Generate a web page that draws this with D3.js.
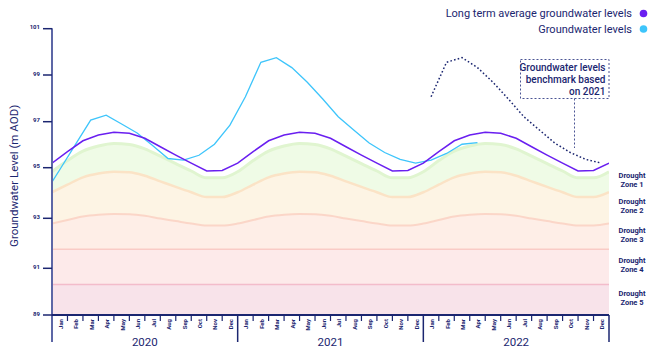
<!DOCTYPE html>
<html><head><meta charset="utf-8">
<script src="https://cdn.jsdelivr.net/npm/d3@7"></script>
<style>body{margin:0;background:#fff;} svg{display:block;font-family:Roboto,"Noto Sans",sans-serif;}</style>
</head><body><svg id="c" width="656" height="360"></svg>
<script>
// ---------- data ----------
const months = ["Jan","Feb","Mar","Apr","May","Jun","Jul","Aug","Sep","Oct","Nov","Dec"];
const years = ["2020","2021","2022"];
const yTicks = [89, 91, 93, 95, 97, 99, 101];

// long term average, month boundaries Jan 2020 ... Jan 2023 (37 values)
const longTermAvg = [
  95.20,95.70,96.17,96.42,96.54,96.50,96.28,95.91,95.55,95.20,94.87,94.89,
  95.20,95.70,96.17,96.42,96.54,96.50,96.28,95.91,95.55,95.20,94.87,94.89,
  95.20,95.70,96.17,96.42,96.54,96.50,96.28,95.91,95.55,95.20,94.87,94.89,
  95.20];

// groundwater levels, mid-month, Dec 2019 ... Apr 2022
const groundwaterFrom = "2019-12";
const groundwater = [
  93.95,
  94.92,95.99,97.07,97.28,96.90,96.51,95.96,95.40,95.33,95.54,96.02,96.85,
  98.07,99.55,99.75,99.32,98.69,97.97,97.21,96.64,96.07,95.66,95.36,95.20,
  95.33,95.62,96.02,96.09];

// benchmark based on 2021, mid-month, Jan 2022 ... Dec 2022
const benchmarkFrom = "2022-01";
const benchmark = [98.07,99.55,99.75,99.32,98.69,97.97,97.21,96.64,96.07,95.66,95.36,95.20];

// drought zone upper limits, month boundaries Jan 2020 ... Jan 2023
const zone1Top = [
  94.84,95.31,95.72,95.94,96.05,96.01,95.82,95.50,95.18,94.87,94.60,94.60,
  94.84,95.31,95.72,95.94,96.05,96.01,95.82,95.50,95.18,94.87,94.60,94.60,
  94.84,95.31,95.72,95.94,96.05,96.01,95.82,95.50,95.18,94.87,94.60,94.60,
  94.84];
const zone2Top = [
  94.03,94.33,94.62,94.77,94.84,94.82,94.68,94.46,94.24,94.03,93.84,93.84,
  94.03,94.33,94.62,94.77,94.84,94.82,94.68,94.46,94.24,94.03,93.84,93.84,
  94.03,94.33,94.62,94.77,94.84,94.82,94.68,94.46,94.24,94.03,93.84,93.84,
  94.03];
const zone3Top = [
  92.79,92.93,93.07,93.14,93.17,93.16,93.10,92.99,92.89,92.79,92.71,92.71,
  92.79,92.93,93.07,93.14,93.17,93.16,93.10,92.99,92.89,92.79,92.71,92.71,
  92.79,92.93,93.07,93.14,93.17,93.16,93.10,92.99,92.89,92.79,92.71,92.71,
  92.79];
const zone4Top = 91.76;
const zone5Top = 90.31;
const zoneNames = ["Zone 1","Zone 2","Zone 3","Zone 4","Zone 5"];

const legendItems = [
  {label:"Long term average groundwater levels", color:"#6a1ff0"},
  {label:"Groundwater levels", color:"#3ec5fb"}
];
const annotation = ["Groundwater levels","benchmark based","on 2021"];

// ---------- layout ----------
const svg = d3.select("#c");
const navy = "#1b2670";
const x = d3.scaleLinear().domain([0, 36]).range([52, 609]);
const y = d3.scaleLinear().domain(yTicks).range([315, 268.3, 218.3, 167.7, 121.7, 75, 28.7]);
const yMin = yTicks[0];

function monthIndex(s, k){ const [yy, mm] = s.split("-").map(Number); return (yy-2020)*12 + (mm-1) + k + 0.5; }

svg.append("defs").append("clipPath").attr("id","plot")
  .append("rect").attr("x", x(0)).attr("y", 0).attr("width", x(36)-x(0)).attr("height", y(yMin));

const plot = svg.append("g").attr("clip-path","url(#plot)");

// zones
const bnd = longTermAvg.map((d,i)=>i);
function zoneArea(topArr){
  return d3.area().x(i=>x(i)).y0(y(yMin)).y1(i=>y(typeof topArr==="number"?topArr:topArr[i])).curve(d3.curveMonotoneX)(bnd);
}
function zoneLine(topArr){
  return d3.line().x(i=>x(i)).y(i=>y(typeof topArr==="number"?topArr:topArr[i])).curve(d3.curveMonotoneX)(bnd);
}
const zones = [
  {top:zone1Top, fill:"#effbe6", edge:"#e0f5d0", w:3},
  {top:zone2Top, fill:"#fdf4e4", edge:"#fbe3c6", w:2.5},
  {top:zone3Top, fill:"#feeee7", edge:"#fbd6c8", w:2},
  {top:zone4Top, fill:"#fdeaea", edge:"#f9cbc6", w:1.5},
  {top:zone5Top, fill:"#f8e3ea", edge:"#f3bccb", w:1.5}
];
zones.forEach(z=>{
  plot.append("path").attr("d", zoneArea(z.top)).attr("fill", z.fill);
});
zones.forEach(z=>{
  plot.append("path").attr("d", zoneLine(z.top)).attr("fill","none").attr("stroke", z.edge).attr("stroke-width", z.w);
});

// lines
const gwStart = monthIndex(groundwaterFrom, 0);
plot.append("path")
  .attr("d", d3.line().x((d,i)=>x(gwStart+i)).y(d=>y(d))(groundwater))
  .attr("fill","none").attr("stroke","#3ec5fb").attr("stroke-width",1.3);

plot.append("path")
  .attr("d", d3.line().x((d,i)=>x(i)).y(d=>y(d))(longTermAvg))
  .attr("fill","none").attr("stroke","#6a1ff0").attr("stroke-width",1.5);

const bmStart = monthIndex(benchmarkFrom, 0);
plot.append("path")
  .attr("d", d3.line().x((d,i)=>x(bmStart+i)).y(d=>y(d))(benchmark))
  .attr("fill","none").attr("stroke",navy).attr("stroke-width",1.5).attr("stroke-dasharray","1.6,2.2");

// y axis
svg.append("line").attr("x1", x(0)).attr("x2", x(0)).attr("y1", y(101)-0.5).attr("y2", 342)
  .attr("stroke","#5d67a6").attr("stroke-width",2);
const yAxis = svg.append("g");
yTicks.forEach(t=>{
  yAxis.append("line").attr("x1", x(0)-9).attr("x2", x(0)).attr("y1", y(t)).attr("y2", y(t))
    .attr("stroke", navy).attr("stroke-width",1.5);
  yAxis.append("text").attr("x", x(0)-12).attr("y", y(t)-2).attr("text-anchor","end")
    .attr("dominant-baseline","central").attr("font-size",6).attr("font-weight",700).attr("fill",navy).text(t);
});
svg.append("text").attr("transform",`translate(14,${(y(101)+y(89))/2+4}) rotate(-90)`)
  .attr("text-anchor","middle").attr("dominant-baseline","central")
  .attr("font-size",11.5).attr("fill",navy).text("Groundwater Level (m AOD)");

// x axis
svg.append("line").attr("x1", x(0)).attr("x2", x(36)).attr("y1", y(yMin)).attr("y2", y(yMin))
  .attr("stroke", navy).attr("stroke-width",2);
const xAxis = svg.append("g");
years.forEach((yr, yi)=>{
  months.forEach((m, mi)=>{
    const idx = yi*12 + mi;
    if (mi>0) xAxis.append("line").attr("x1", x(idx)).attr("x2", x(idx)).attr("y1", y(yMin)).attr("y2", y(yMin)+6)
      .attr("stroke", navy).attr("stroke-width",1.2);
    xAxis.append("text").attr("transform",`translate(${x(idx+0.5)+0.5},${y(yMin)+4}) rotate(-90)`)
      .attr("text-anchor","end").attr("dominant-baseline","central")
      .attr("font-size",6).attr("font-weight",700).attr("fill",navy).text(m);
  });
  xAxis.append("text").attr("x", x(yi*12+6)).attr("y", 346).attr("text-anchor","middle")
    .attr("font-size",11.5).attr("font-weight",400).attr("fill",navy).text(yr);
});
[12,24,36].forEach(idx=>{
  xAxis.append("line").attr("x1", x(idx)).attr("x2", x(idx)).attr("y1", y(yMin)).attr("y2", 342)
    .attr("stroke", navy).attr("stroke-width",1.5);
});

// zone labels
const zoneBounds = [zone1Top[36], zone2Top[36], zone3Top[36], zone4Top, zone5Top, yMin];
zoneNames.forEach((z,i)=>{
  const cy = (y(zoneBounds[i]) + y(zoneBounds[i+1]))/2 - 2;
  const g = svg.append("text").attr("text-anchor","middle").attr("font-size",7.5).attr("font-weight",700).attr("fill",navy);
  g.append("tspan").attr("x", 632).attr("y", cy-1.5).text("Drought");
  g.append("tspan").attr("x", 632).attr("y", cy+7.5).text(z);
});

// legend
legendItems.forEach((d,i)=>{
  const ly = 13.5 + i*15.5;
  svg.append("text").attr("x", 632).attr("y", ly).attr("text-anchor","end").attr("dominant-baseline","central")
    .attr("font-size",11).attr("fill",navy).text(d.label);
  svg.append("circle").attr("cx", 643.5).attr("cy", ly).attr("r", 3.8).attr("fill", d.color);
});

// annotation
svg.append("rect").attr("x",520.5).attr("y",59.5).attr("width",88.5).attr("height",39)
  .attr("fill","none").attr("stroke","#4a5494").attr("stroke-width",1).attr("stroke-dasharray","2,2");
svg.append("line").attr("x1",574.5).attr("x2",574.5).attr("y1",98.5).attr("y2",148)
  .attr("stroke","#4a5494").attr("stroke-width",1).attr("stroke-dasharray","2,2");
annotation.forEach((t,i)=>{
  svg.append("text").attr("x",605.5).attr("y",70.5+i*12).attr("text-anchor","end")
    .attr("font-size",10).attr("font-weight",500).attr("fill",navy).text(t);
});
</script></body></html>
